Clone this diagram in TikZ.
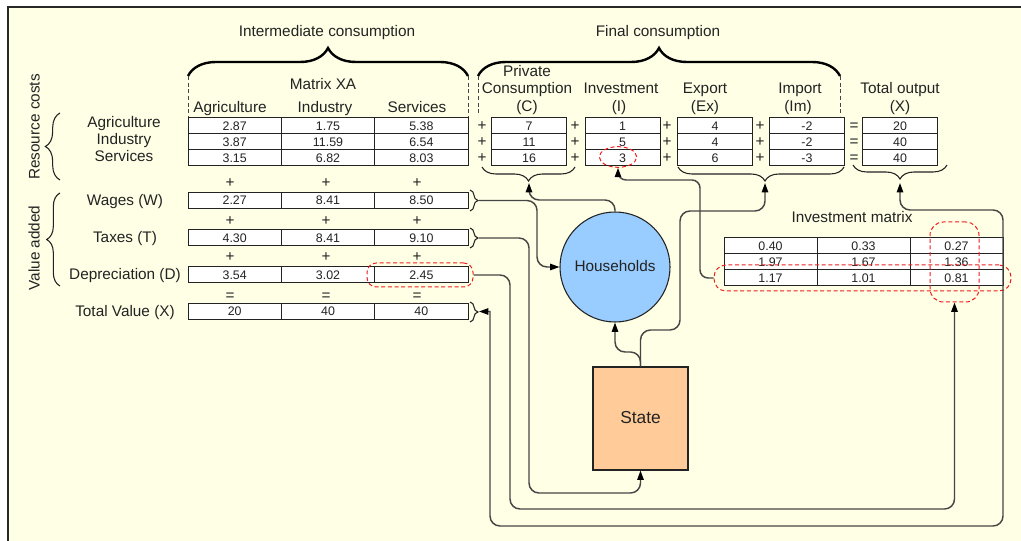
\documentclass[tikz,border=0pt]{standalone}
\usepackage{fontspec}
\setmainfont{Liberation Sans}
\usetikzlibrary{arrows.meta,shapes.geometric,decorations.pathreplacing}

\definecolor{paper}{RGB}{255,255,230}
\definecolor{rim}{RGB}{40,40,40}
\definecolor{ink}{RGB}{35,35,35}
\definecolor{wirecol}{RGB}{70,70,70}
\definecolor{hhblue}{RGB}{153,204,255}
\definecolor{statefill}{RGB}{255,204,153}
\definecolor{hlred}{RGB}{240,30,30}

\newcommand\labfont{\fontsize{11.5pt}{13pt}\selectfont}
\newcommand\numfont{\fontsize{9.3pt}{10pt}\selectfont}

\begin{document}
\begin{tikzpicture}[x=0.75pt,y=-0.75pt,
  lab/.style={font=\labfont,text=ink,inner sep=0pt,text height=8.3pt,text depth=1.2pt},
  cell/.style={draw=ink,fill=white,line width=0.75pt,minimum height=12pt,inner sep=0pt,font=\numfont,text=ink,
               text height=6.7pt,text depth=0pt},
  cellxa/.style={cell,minimum width=70pt},
  cellfc/.style={cell,minimum width=56.25pt},
  cellinv/.style={cell,minimum width=69.75pt},
  wire/.style={draw=wirecol,line width=1.1pt,rounded corners=7.5pt},
  tipend/.style={-{Triangle[length=7pt,width=4.8pt,color=black]}},
  tipboth/.style={{Triangle[length=7pt,width=4.8pt,color=black]}-{Triangle[length=7pt,width=4.8pt,color=black]}},
  hl/.style={draw=hlred,densely dashed,line width=0.75pt,rounded corners=7pt,inner sep=0pt},
  bigbrace/.style={draw=black,line width=1.8pt,decorate,decoration={brace,amplitude=21pt}},
  smallbrace/.style={draw=ink,line width=0.8pt,decorate,decoration={brace,amplitude=#1}},
  smallbrace/.default=8pt,
  guide/.style={draw=wirecol,line width=0.7pt,dash pattern=on 3pt off 2pt},
]
\useasboundingbox (0,0) rectangle (1021,541);

% page and frame
\fill[white] (0,0) rectangle (1021,541);
\fill[paper] (8,7) rectangle (1021,541);
\draw[rim,line width=1.4pt] (8,541) -- (8,7) -- (1021,7);

% ---- headings and braces over the tables
\node[lab] (tInter) at (327,32) {Intermediate consumption};
\node[lab] (tFinal) at (658,32) {Final consumption};
\draw[bigbrace] (188,76) -- (468,76);
\draw[bigbrace] (478,76) -- (840,76);
\draw[guide] (188,76) -- (188,118);
\draw[guide] (468,76) -- (468,118);
\draw[guide] (478,76) -- (478,116);
\draw[guide] (840,76) -- (840,116);

\node[lab] (tXA) at (323,85) {Matrix XA};
\node[lab] (hAgr) at (230,108) {Agriculture};
\node[lab] (hInd) at (325,108) {Industry};
\node[lab] (hSer) at (417,108) {Services};

\node[lab] (hPriv) at (527,72) {Private};
\node[lab] (hCons) at (527,89) {Consumption};
\node[lab] (hC) at (527,107) {(C)};
\node[lab] (hInv) at (621,89) {Investment};
\node[lab] (hI) at (619,107) {(I)};
\node[lab] (hExp) at (705,89) {Export};
\node[lab] (hEx) at (705,107) {(Ex)};
\node[lab] (hImp) at (800,89) {Import};
\node[lab] (hIm) at (798,107) {(Im)};
\node[lab] (hTot) at (900,89) {Total output};
\node[lab] (hX) at (900,107) {(X)};

% ---- row labels
\node[lab,rotate=90] (tRes) at (35,127) {Resource costs};
\draw[smallbrace=11pt] (60,180) -- (60,113);
\node[lab] (rAgr) at (124,123) {Agriculture};
\node[lab] (rInd) at (124,140) {Industry};
\node[lab] (rSer) at (124,157) {Services};

\node[lab,rotate=90] (tVal) at (35,248) {Value added};
\draw[smallbrace=10pt] (60,286) -- (60,193);
\node[lab] (rW) at (125,201) {Wages (W)};
\node[lab] (rT) at (125,238) {Taxes (T)};
\node[lab] (rD) at (125,275) {Depreciation (D)};
\node[lab] (rX) at (125,312) {Total Value (X)};

% ---- matrix XA and value added rows
\foreach \r/\y/\a/\b/\c in {1/126/2.87/1.75/5.38, 2/142/3.87/11.59/6.54, 3/158/3.15/6.82/8.03,
                          w/200.5/2.27/8.41/8.50, t/238/4.30/8.41/9.10, d/275/3.54/3.02/2.45,
                          x/311.5/20/40/40}{
  \node[cellxa] (xa\r a) at (234.67,\y) {\a};
  \node[cellxa] (xa\r b) at (328,\y) {\b};
  \node[cellxa] (xa\r c) at (421.33,\y) {\c};
}
\foreach \y/\s in {183/+, 221/+, 257/+, 296/=}{
  \node[lab] at (230,\y) {\s};
  \node[lab] at (326,\y) {\s};
  \node[lab] at (417,\y) {\s};
}

% ---- final consumption columns and total output
\foreach \r/\y/\c/\i/\e/\m/\x in {1/126/7/1/4/-2/20, 2/142/11/5/4/-2/40, 3/158/16/3/6/-3/40}{
  \node[cellfc] (fc\r c) at (529,\y) {\c};
  \node[cellfc] (fc\r i) at (622.5,\y) {\i};
  \node[cellfc] (fc\r e) at (715,\y) {\e};
  \node[cellfc] (fc\r m) at (807,\y) {\m};
  \node[cellfc] (fc\r x) at (900,\y) {\x};
  \node[lab] at (482,\y) {+};
  \node[lab] at (575,\y) {+};
  \node[lab] at (667,\y) {+};
  \node[lab] at (760,\y) {+};
  \node[lab] at (854,\y) {=};
}

% braces under the columns
\draw[smallbrace=10.5pt] (575,167) -- (482,167);
\draw[smallbrace=10.5pt,decoration={aspect=0.476}] (844,167) -- (678,167);
\draw[smallbrace=10.5pt] (947,165) -- (853,165);
\coordinate (ctip) at (529,183);
\coordinate (extip) at (765,183);
\coordinate (xtip) at (900,183);

% braces at the right of the value added rows
\draw[smallbrace=6pt] (470,190) -- (470,211);
\draw[smallbrace=6pt] (470,228) -- (470,248);
\draw[smallbrace=6pt] (470,302) -- (470,322);
\coordinate (wtip) at (479,200.5);
\coordinate (ttip) at (479,238);
\coordinate (totaltip) at (479,311.5);

% ---- investment matrix
\node[lab] (tInvM) at (852,218) {Investment matrix};
\foreach \r/\y/\a/\b/\c in {1/246/0.40/0.33/0.27, 2/262/1.97/1.67/1.36, 3/278/1.17/1.01/0.81}{
  \node[cellinv] (im\r a) at (770.5,\y) {\a};
  \node[cellinv] (im\r b) at (863.5,\y) {\b};
  \node[cellinv] (im\r c) at (956.5,\y) {\c};
}

% ---- highlighted entries
\node[hl,ellipse,minimum width=28pt,minimum height=15.5pt] (ihl) at (618,157) {};
\node[hl,minimum width=79.5pt,minimum height=18pt] (dhl) at (420,275) {};
\node[hl,minimum width=222.75pt,minimum height=19.5pt,rounded corners=9pt] (rowhl) at (862.5,278) {};
\node[hl,minimum width=36.75pt,minimum height=60pt,rounded corners=10pt] (colhl) at (954.5,262) {};

% ---- agents
\node[circle,draw=ink,fill=hhblue,line width=0.8pt,minimum size=82.5pt,lab] (hh) at (615,267) {Households};
\node[draw=ink,fill=statefill,line width=0.8pt,minimum width=71.25pt,minimum height=77.25pt,lab,
      font=\fontsize{13pt}{15pt}\selectfont] (state) at (640.5,418.5) {State};

% ---- flows
\draw[wire,tipend] (wtip) -- (537,200.5) -- (537,267) -- (hh.west);
\draw[wire,tipend] (ttip) -- (529,238) -- (529,493) -- (640.5,493) -- (state.south);
\draw[wire,tipend] (dhl.east) -- (510,275) -- (510,509) -- (954.5,509) -- (colhl.south);
\draw[wire,tipboth] (xtip) -- (900,210) -- (1003,210) -- (1003,526) -- (490,526) -- (490,330)
      [sharp corners] -- (490,311.5) -- (totaltip);
\draw[wire,tipend] (hh.north) -- (615,200) -- (529,200) -- (ctip);
\draw[wire,tipend] (state.north) -- (640.5,352) -- (615,352) -- (hh.south);
\draw[wire,tipend] (state.north) -- (640.5,330) -- (680,330) -- (680,211) -- (765,211) -- (extip);
\draw[wire,tipend,rounded corners=6pt] (rowhl.west) -- (700,278) -- (700,180) -- (618,180) -- (ihl.south);
\end{tikzpicture}
\end{document}
